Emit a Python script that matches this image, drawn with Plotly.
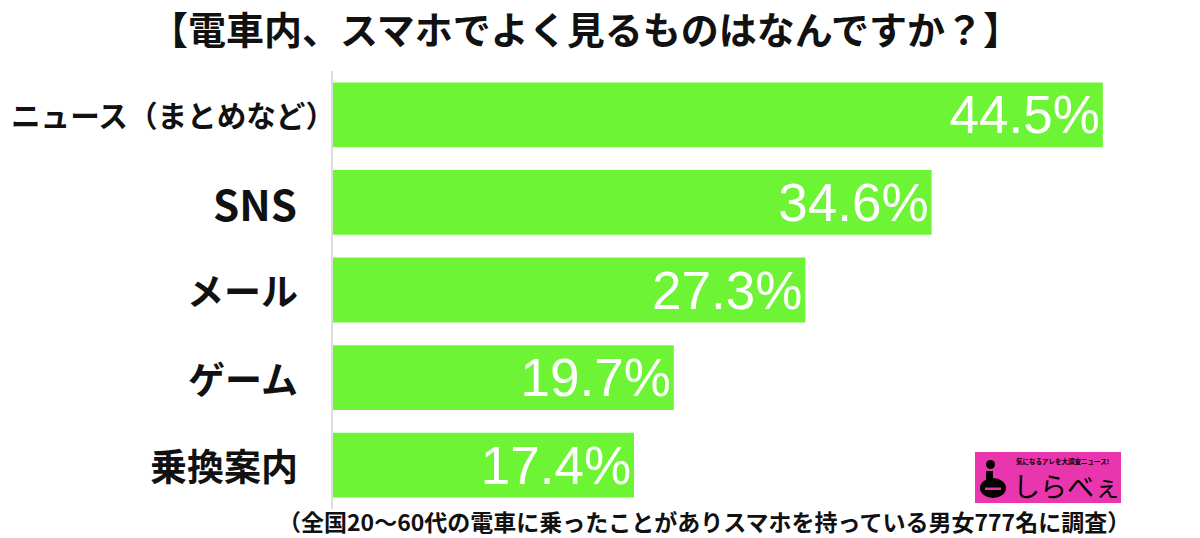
import plotly.graph_objects as go

categories = ["ニュース（まとめなど）", "SNS", "メール", "ゲーム", "乗換案内"]
values = [44.5, 34.6, 27.3, 19.7, 17.4]
value_labels = ["44.5%", "34.6%", "27.3%", "19.7%", "17.4%"]
title_text = "【電車内、スマホでよく見るものはなんですか？】"
note_text = "（全国20〜60代の電車に乗ったことがありスマホを持っている男女777名に調査）"

W, H = 1200, 538
L, R, T, B = 333, 2, 71, 29
PW, PH = W - L - R, H - T - B

def px(x):
    return (x - L) / PW

def py(y):
    return (H - B - y) / PH

JP = "Noto Sans CJK JP"
GREEN = "#6DF535"

fig = go.Figure()
fig.add_trace(go.Bar(
    y=categories, x=values, orientation="h",
    marker=dict(color=GREEN, line=dict(width=0)),
    text=value_labels, textposition="inside", insidetextanchor="end",
    textangle=0, constraintext="none",
    textfont=dict(family="Liberation Sans, Arial, sans-serif", size=53, color="white"),
    cliponaxis=False, hoverinfo="skip",
))

label_x = [337, 299, 300, 300, 300]
label_size = [29.6, 42, 37, 37, 37]
annotations = []
for c, lx, ls in zip(categories, label_x, label_size):
    annotations.append(dict(
        x=px(lx), xref="paper", y=c, yref="y",
        xanchor="right", yanchor="middle", showarrow=False,
        text=f"<b>{c}</b>",
        font=dict(family=JP, size=ls, color="#111111"),
    ))

annotations.append(dict(
    x=px(585), xref="paper", y=py(28), yref="paper",
    xanchor="center", yanchor="middle", showarrow=False,
    text=f"<b>{title_text}</b>",
    font=dict(family=JP, size=38, color="#111111"),
))
annotations.append(dict(
    x=px(704), xref="paper", y=py(521), yref="paper",
    xanchor="center", yanchor="middle", showarrow=False,
    text=f"<b>{note_text}</b>",
    font=dict(family=JP, size=23, color="#111111"),
))

# logo
PINK = "#E935AE"
shapes = [
    dict(type="rect", xref="paper", yref="paper",
         x0=px(975), x1=px(1121), y0=py(503), y1=py(452),
         fillcolor=PINK, line=dict(width=0), layer="above"),
    dict(type="circle", xref="paper", yref="paper",
         x0=px(986), x1=px(995), y0=py(469), y1=py(460),
         fillcolor="black", line=dict(width=0), layer="above"),
    dict(type="rect", xref="paper", yref="paper",
         x0=px(986), x1=px(993), y0=py(486), y1=py(471),
         fillcolor="black", line=dict(width=0), layer="above"),
    dict(type="circle", xref="paper", yref="paper",
         x0=px(980), x1=px(1006), y0=py(498), y1=py(478),
         fillcolor="black", line=dict(width=0), layer="above"),
    dict(type="rect", xref="paper", yref="paper",
         x0=px(985), x1=px(1001), y0=py(490), y1=py(487.5),
         fillcolor=PINK, line=dict(width=0), layer="above"),
]
annotations.append(dict(
    x=px(1067), xref="paper", y=py(485), yref="paper",
    xanchor="center", yanchor="middle", showarrow=False,
    text="しらべぇ",
    font=dict(family=JP, size=27, color="black"),
))
annotations.append(dict(
    x=px(1062), xref="paper", y=py(461), yref="paper",
    xanchor="center", yanchor="middle", showarrow=False,
    text="<b>気になるアレを大調査ニュース!</b>",
    font=dict(family=JP, size=6.5, color="black"),
))

fig.update_layout(
    width=W, height=H,
    margin=dict(l=L, r=R, t=T, b=B, pad=0),
    paper_bgcolor="white", plot_bgcolor="white",
    bargap=0.26, showlegend=False,
    xaxis=dict(range=[0, 50], visible=False, fixedrange=True),
    yaxis=dict(categoryorder="array", categoryarray=categories,
               autorange="reversed", showticklabels=False,
               showline=True, linecolor="#DDDDDD", linewidth=2,
               showgrid=False, zeroline=False, ticks=""),
    annotations=annotations, shapes=shapes,
)

fig.write_html("out.html", config={"displayModeBar": False})
